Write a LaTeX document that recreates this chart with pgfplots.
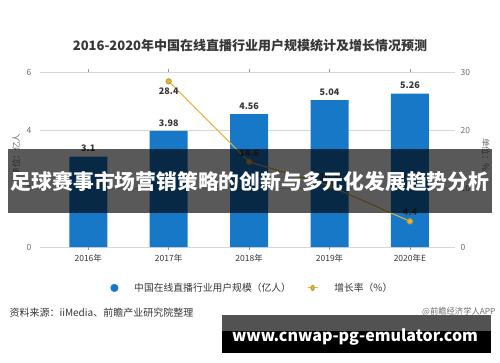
\documentclass[border=0pt]{standalone}
\usepackage{graphicx}
\usepackage{pgfplots}
\pgfplotsset{compat=1.18}
\usepackage{fontspec}
\setmainfont{Noto Sans CJK SC}
\definecolor{barblue}{RGB}{24,120,200}
\definecolor{gold}{RGB}{228,182,58}
\definecolor{txt}{RGB}{55,55,55}
\definecolor{tick}{RGB}{110,110,110}
\definecolor{gridc}{RGB}{215,215,215}
\begin{document}
\begin{tikzpicture}[x=1pt,y=1pt]
\fill[white] (0,0) rectangle (500,362);
\node[text=txt,font=\fontsize{13}{15}\selectfont\bfseries] at (250,316) {2016-2020年中国在线直播行业用户规模统计及增长情况预测};
\begin{axis}[at={(40pt,115pt)}, anchor=south west, scale only axis,
  width=415pt, height=175pt,
  xmin=-0.6, xmax=4.56, ymin=0, ymax=6,
  ytick={0,2,4,6}, ymajorgrids, grid style={gridc, line width=0.6pt},
  axis line style={draw=none},
  xtick={0,1,2,3,4}, xticklabels={2016年,2017年,2018年,2019年,2020年E},
  tick align=outside, major tick length=3pt,
  xtick style={draw=gridc!70!black, line width=0.5pt}, ytick style={draw=none},
  /pgf/number format/assume math mode=true,
  xticklabel style={font=\fontsize{8.5}{10}\selectfont, text=txt, yshift=-1pt},
  yticklabel style={font=\fontsize{8.5}{10}\selectfont, text=tick, xshift=-2pt},
  nodes near coords, every node near coord/.append style={font=\fontsize{9}{10}\selectfont\bfseries, text=txt, yshift=1pt},
]
\addplot[ybar, bar width=38pt, fill=barblue, draw=none] coordinates {(0,3.1) (1,3.98) (2,4.56) (3,5.04) (4,5.26)};
\end{axis}
\begin{axis}[at={(40pt,115pt)}, anchor=south west, scale only axis,
  width=415pt, height=175pt,
  xmin=-0.6, xmax=4.56, ymin=0, ymax=30,
  ytick={0,10,20,30}, yticklabel pos=right, xtick=\empty,
  axis line style={draw=none}, ytick style={draw=none},
  /pgf/number format/assume math mode=true,
  yticklabel style={font=\fontsize{8.5}{10}\selectfont, text=tick, xshift=2pt},
  legend columns=2,
  legend style={at={(0.512,-0.234)}, anchor=center, draw=none, fill=none,
    font=\fontsize{9.8}{11}\selectfont, text=txt, column sep=14pt},
  legend cell align=left,
]
\addlegendimage{only marks, mark=*, mark size=3.8pt, color=barblue}
\addlegendentry{中国在线直播行业用户规模（亿人）}
\addplot[color=gold, line width=1pt, mark=*, mark size=2.6pt, mark options={fill=gold, draw=gold!85!black},
  legend image post style={xscale=0.6}] coordinates {(1,28.4) (2,14.6) (3,10.5) (4,4.4)};
\addlegendentry{增长率（\%）}
\addplot[draw=none, mark=none, nodes near coords, point meta=explicit symbolic,
  every node near coord/.append style={anchor=north, font=\fontsize{9}{10}\selectfont\bfseries, text=txt, yshift=-3pt}]
  coordinates {(1,28.4)[28.4]};
\addplot[draw=none, mark=none, nodes near coords, point meta=explicit symbolic,
  every node near coord/.append style={anchor=south, font=\fontsize{9}{10}\selectfont\bfseries, text=txt, yshift=2pt}]
  coordinates {(2,14.6)[14.6] (3,10.5)[10.5] (4,4.4)[4.4]};
\end{axis}
\node[rotate=90, text=tick, font=\fontsize{8.5}{10}\selectfont] at (16,207) {单位：亿人};
\node[rotate=-90, text=tick, font=\fontsize{8.5}{10}\selectfont] at (486,207) {单位：\%};
\node[anchor=west, text=txt, font=\fontsize{10}{12}\selectfont] at (6,49) {资料来源：iiMedia、前瞻产业研究院整理};
\node[anchor=west, text=tick, font=\fontsize{8.3}{10}\selectfont, inner sep=1pt] at (421,50) {@前瞻经济学人APP};
% overlay banner
\fill[black, opacity=0.65] (8,149) rectangle (492,213);
\node[text=white, font=\fontsize{20.8}{23}\selectfont\bfseries] at (250,180) {足球赛事市场营销策略的创新与多元化发展趋势分析};
% bottom box
\fill[black!68] (222,31) rectangle (491,47);
\fill[black] (222,9) rectangle (491,31);
\node[text=white, inner sep=0pt] at (355,25) {\resizebox{246pt}{!}{\bfseries www.cnwap-pg-emulator.com}};
\pgfresetboundingbox
\useasboundingbox (0,0) rectangle (500,362);
\end{tikzpicture}
\end{document}
